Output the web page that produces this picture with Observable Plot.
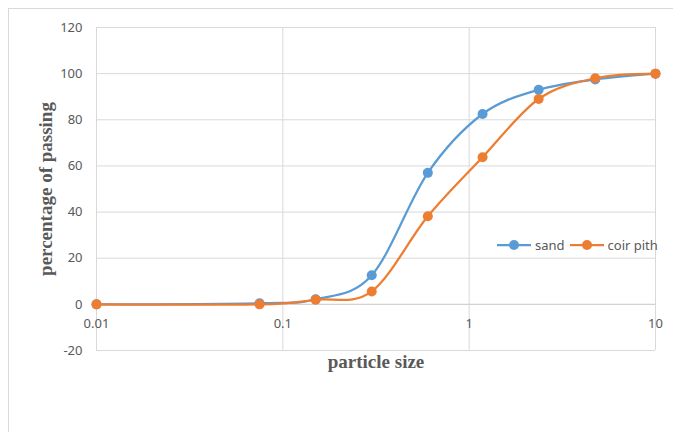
<!DOCTYPE html>
<html><head><meta charset="utf-8">
<script src="https://cdn.jsdelivr.net/npm/d3@7"></script>
<script src="https://cdn.jsdelivr.net/npm/@observablehq/plot@0.6"></script>
<style>
html,body{margin:0;padding:0;background:#fff;overflow:hidden}
#wrap{position:relative;width:673px;height:432px;overflow:hidden}
#frame{position:absolute;left:8px;top:8px;width:800px;height:600px;border:1px solid #d9d9d9}
#chart{position:absolute;left:0;top:0}
#legend{position:absolute;left:497px;top:236px;font-family:"Noto Sans",sans-serif;font-size:13px;color:#595959;display:flex;align-items:center;gap:5px}
#legend .item{display:flex;align-items:center;gap:4px}
</style></head>
<body>
<div id="wrap"><div id="frame"></div><div id="chart"></div><div id="legend"></div></div>
<script>
const sizes = [0.01, 0.075, 0.15, 0.3, 0.6, 1.18, 2.36, 4.75, 10];
const sand = [0, 0.5, 2.2, 12.6, 57, 82.5, 93, 97.5, 100];
const coirPith = [0, 0, 2, 5.6, 38.2, 63.8, 89, 98, 100];
const seriesNames = ["sand", "coir pith"];
const seriesColors = ["#5B9BD5", "#ED7D31"];
const xTicks = [0.01, 0.1, 1, 10];
const xTickLabels = ["0.01", "0.1", "1", "10"];
const yTicks = [-20, 0, 20, 40, 60, 80, 100, 120];

const sandData = sizes.map((s, i) => ({s, v: sand[i]}));
const coirData = sizes.map((s, i) => ({s, v: coirPith[i]}));
const gray = "#595959";

const chart = Plot.plot({
  width: 673, height: 432,
  marginLeft: 96, marginRight: 18, marginTop: 27, marginBottom: 82,
  style: {fontFamily: "Noto Sans, sans-serif", fontSize: "13px", color: gray, background: "transparent", overflow: "visible"},
  x: {type: "log", domain: [0.01, 10], axis: null},
  y: {domain: [-20, 120], axis: null},
  marks: [
    Plot.gridX(xTicks, {stroke: "#d9d9d9", strokeOpacity: 1}),
    Plot.gridY(yTicks, {stroke: "#d9d9d9", strokeOpacity: 1}),
    Plot.ruleY([0], {stroke: "#d0d0d0", strokeWidth: 1}),
    Plot.axisY(yTicks, {tickSize: 0, tickPadding: 14, fontSize: 13, fill: gray, label: null, tickFormat: d => String(d)}),
    Plot.text(xTicks, {x: d => d, y: 0, dy: 19, text: (d, i) => xTickLabels[i], fill: gray, fontSize: 13}),
    Plot.text(["percentage of passing"], {frameAnchor: "left", textAnchor: "middle", dx: -51, rotate: -90, fontFamily: "Liberation Serif, serif", fontWeight: "bold", fontSize: 19, fill: gray}),
    Plot.text(["particle size"], {frameAnchor: "bottom", dy: 17, fontFamily: "Liberation Serif, serif", fontWeight: "bold", fontSize: 19, fill: gray}),
    Plot.line(sandData, {x: "s", y: "v", stroke: seriesColors[0], strokeWidth: 2.25, curve: "cardinal", tension: 0}),
    Plot.dot(sandData, {x: "s", y: "v", r: 5, fill: seriesColors[0]}),
    Plot.line(coirData, {x: "s", y: "v", stroke: seriesColors[1], strokeWidth: 2.25, curve: "cardinal", tension: 0}),
    Plot.dot(coirData, {x: "s", y: "v", r: 5, fill: seriesColors[1]})
  ]
});
document.getElementById("chart").appendChild(chart);

const legend = document.getElementById("legend");
seriesNames.forEach((name, i) => {
  const item = document.createElement("div");
  item.className = "item";
  item.innerHTML = `<svg width="34" height="12"><line x1="0" y1="6" x2="34" y2="6" stroke="${seriesColors[i]}" stroke-width="2.25"/><circle cx="17" cy="6" r="5" fill="${seriesColors[i]}"/></svg><span>${name}</span>`;
  legend.appendChild(item);
});
</script>
</body></html>
